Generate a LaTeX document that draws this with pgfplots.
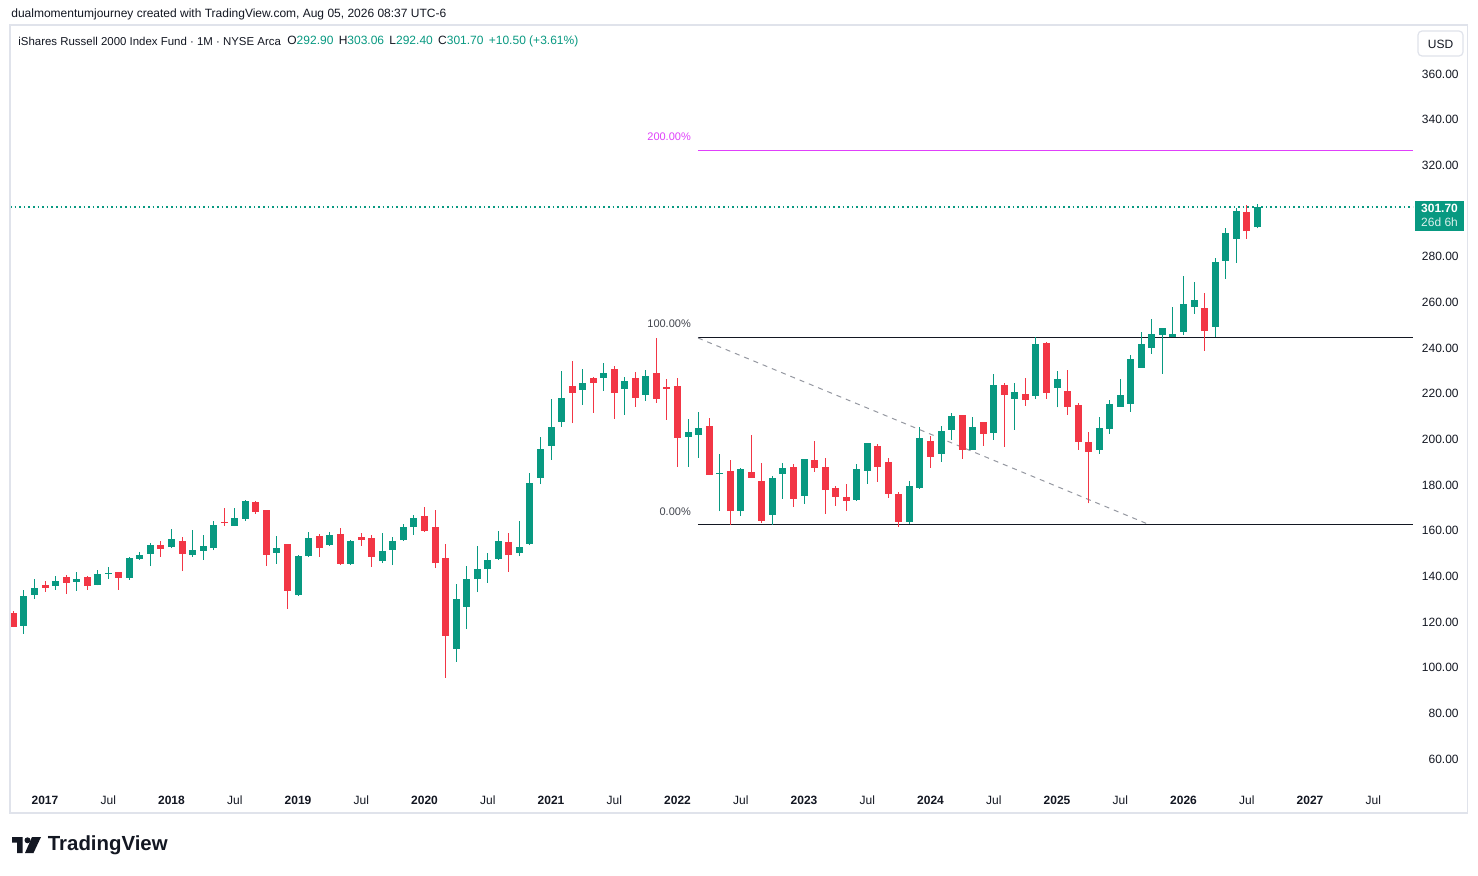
\documentclass[border=0pt]{standalone}
\usepackage{pgfplots}
\pgfplotsset{compat=1.18}
\usepackage{pgfplotstable}
\usepackage{fontspec}
\setmainfont{Liberation Sans}
\definecolor{tvgreen}{HTML}{089981}
\definecolor{tvred}{HTML}{F23645}
\definecolor{fibmag}{HTML}{E040FB}
\definecolor{tvtext}{HTML}{131722}
\definecolor{tvborder}{HTML}{E0E3EB}
\definecolor{tvdash}{HTML}{9598A1}
\newcommand\tvf{\fontsize{6}{7.2}\selectfont}

\pgfplotstableread{
x o h l c
-2 118.4 134.0 114.9 131.4
-1 132.0 138.8 130.2 134.9
1 135.9 140.1 134.1 137.9
3 137.7 141.9 133.7 138.8
5 136.4 142.8 136.0 141.0
6 141.2 144.1 139.0 141.5
8 139.4 148.5 138.5 148.0
9 147.6 150.6 147.2 149.3
10 149.8 154.6 144.5 153.7
12 152.8 160.7 152.4 156.3
14 149.3 160.3 148.5 151.5
15 151.1 158.1 147.2 153.3
16 152.4 164.2 151.5 162.5
18 162.2 169.9 162.0 165.5
19 165.3 173.4 164.4 173.0
22 150.3 157.7 145.5 152.4
24 131.8 149.3 131.4 148.9
25 148.9 159.4 148.5 156.8
27 153.7 159.4 153.3 158.1
29 145.4 155.9 145.0 155.5
32 146.7 158.9 145.8 151.1
33 151.5 157.2 144.9 155.5
34 155.9 162.9 155.5 161.6
35 161.6 166.9 158.1 165.5
39 108.3 136.7 102.5 130.1
40 126.6 144.5 116.9 138.8
41 138.8 153.3 133.1 143.2
42 143.2 150.2 137.1 147.2
43 147.6 159.9 147.2 155.5
45 150.2 164.2 148.9 152.8
46 154.2 185.3 153.7 180.9
47 183.1 201.0 180.4 195.8
48 197.1 217.7 191.0 205.4
49 207.6 230.0 205.4 218.1
51 221.7 230.8 215.2 224.7
53 227.0 233.4 221.3 229.0
55 222.2 227.3 210.8 225.5
57 219.5 230.4 216.9 227.7
61 201.1 208.9 188.0 203.0
62 202.0 211.9 192.0 204.8
64 184.9 193.6 168.6 185.3
66 168.8 187.4 166.4 187.0
69 167.0 183.9 162.5 183.1
70 184.9 189.6 174.0 187.4
72 175.3 191.4 171.8 191.4
77 173.6 189.2 173.1 187.0
78 186.3 198.4 180.6 198.4
82 164.0 181.8 163.1 179.6
83 178.8 205.4 178.4 200.6
85 193.7 205.8 190.2 203.6
86 204.2 211.5 199.7 210.2
88 195.5 209.8 195.5 205.4
90 202.9 228.6 199.8 223.8
92 217.8 224.7 204.2 220.7
94 219.1 245.0 217.8 241.8
96 222.6 230.0 214.0 226.4
100 195.5 209.8 193.7 205.0
101 204.7 217.2 202.5 215.5
102 214.3 226.4 214.3 219.4
103 215.6 236.9 212.1 235.2
104 231.4 247.0 231.4 241.8
105 240.1 252.7 237.5 246.1
106 245.7 248.8 228.7 248.8
107 244.8 258.0 244.8 246.1
108 247.1 271.5 245.8 259.3
109 258.1 268.9 255.0 261.0
111 249.3 279.4 244.9 277.7
112 278.2 292.6 270.3 290.4
113 287.9 301.3 277.4 300.0
115 292.9 303.06 292.4 301.7
}\up

\pgfplotstableread{
x o h l c
-3 124.1 124.8 117.8 118.0
0 136.2 137.9 133.3 135.0
2 139.7 140.6 132.4 137.2
4 139.7 140.1 134.1 135.9
7 141.9 141.9 134.1 139.4
11 153.7 155.5 148.5 152.0
13 155.5 157.2 142.3 149.8
17 163.9 169.9 162.0 163.5
20 172.6 173.0 167.4 168.3
21 169.0 169.0 144.6 149.5
23 154.2 154.2 125.8 133.7
26 157.7 158.5 148.5 152.4
28 158.5 161.2 145.0 145.4
30 157.2 158.9 153.3 155.9
31 156.8 158.1 144.1 148.5
36 166.4 170.4 159.5 159.9
37 161.6 169.0 143.6 145.8
38 148.0 154.2 95.5 113.9
44 155.0 158.9 141.9 149.3
50 223.4 234.3 207.1 220.3
52 226.9 227.3 211.7 224.8
54 230.8 232.1 209.0 220.5
56 226.9 229.5 214.3 218.2
58 229.0 244.4 216.0 217.8
59 222.8 226.4 208.6 222.2
60 223.4 226.9 188.0 200.7
63 205.7 209.4 184.5 184.5
65 186.0 191.0 162.5 168.6
67 185.7 201.9 183.2 183.2
68 181.8 189.6 163.5 164.4
71 187.9 189.2 170.5 174.0
73 191.0 199.3 185.8 187.6
74 187.9 191.8 167.4 177.9
75 178.7 179.6 170.9 174.9
76 174.7 180.4 168.8 173.1
79 197.1 198.0 181.4 188.0
80 190.1 191.8 174.5 176.2
81 176.1 177.0 161.8 164.0
84 199.3 201.5 187.6 192.4
87 210.7 210.7 191.5 195.5
89 207.6 207.6 197.2 202.5
91 223.8 224.7 196.8 219.5
93 219.9 226.9 214.7 217.4
95 242.2 242.6 217.8 220.5
97 221.2 230.4 210.8 214.3
98 215.0 215.9 195.5 199.0
99 198.8 203.2 172.0 194.6
110 257.5 264.1 238.8 247.4
114 299.6 302.6 287.9 291.2
}\down

\begin{document}
\begin{tikzpicture}
\useasboundingbox (0,0) rectangle (739pt,437.5pt);
\fill[white] (0,0) rectangle (739pt,437.5pt);

\begin{axis}[
  at={(5pt,44pt)}, anchor=south west,
  scale only axis, width=701.5pt, height=380pt,
  xmin=-3.32, xmax=129.77, ymin=47.73, ymax=380.58,
  axis line style={draw=none}, major tick length=0pt,
  xtick={0,6,...,126},
  xticklabels={\textbf{2017},Jul,\textbf{2018},Jul,\textbf{2019},Jul,\textbf{2020},Jul,\textbf{2021},Jul,\textbf{2022},Jul,\textbf{2023},Jul,\textbf{2024},Jul,\textbf{2025},Jul,\textbf{2026},Jul,\textbf{2027},Jul},
  xticklabel style={font=\tvf, text=tvtext, anchor=center, yshift=-6.5pt, inner sep=0pt},
  ytick={60,80,...,360},
  yticklabel pos=right,
  yticklabel style={font=\tvf, text=tvtext, anchor=east, xshift=23pt, inner sep=0pt},
  /pgf/number format/fixed, /pgf/number format/fixed zerofill,
  /pgf/number format/precision=2, /pgf/number format/assume math mode=true,
  /pgf/number format/1000 sep={},
  candle/.style={draw=none, mark=none, forget plot, error bars/.cd, y dir=plus, y explicit, error mark=none},
]
% dotted last price line
\addplot[tvgreen, line width=0.75pt, dash pattern=on 0.75pt off 1.55pt] coordinates {(-3.32,301.7) (129.77,301.7)};
% fib levels
\addplot[tvtext, line width=0.5pt] coordinates {(61.94,244.4) (129.77,244.4)};
\addplot[tvtext, line width=0.5pt] coordinates {(61.94,162.5) (129.77,162.5)};
\addplot[fibmag, line width=0.5pt] coordinates {(61.94,326.3) (129.77,326.3)};
\addplot[tvdash, line width=0.5pt, dash pattern=on 2.5pt off 2.5pt] coordinates {(61.94,244.4) (104.82,162.5)};
% wicks
\addplot[candle, error bar style={line width=0.5pt, draw=tvgreen}]
  table[x=x, y=l, y error plus expr=\thisrow{h}-\thisrow{l}] {\up};
\addplot[candle, error bar style={line width=0.5pt, draw=tvred}]
  table[x=x, y=l, y error plus expr=\thisrow{h}-\thisrow{l}] {\down};
% bodies
\addplot[candle, error bar style={line width=3.5pt, draw=tvgreen}]
  table[x=x, y=o, y error plus expr={max(\thisrow{c}-\thisrow{o},0.45)}] {\up};
\addplot[candle, error bar style={line width=3.5pt, draw=tvred}]
  table[x=x, y=c, y error plus expr={max(\thisrow{o}-\thisrow{c},0.45)}] {\down};
% fib labels
\node[anchor=east, inner sep=0pt, font=\fontsize{5.5}{6.6}\selectfont, text=fibmag] at (axis cs:61.3,332.4) {200.00\%};
\node[anchor=east, inner sep=0pt, font=\fontsize{5.5}{6.6}\selectfont, text=tvtext!80] at (axis cs:61.3,250.5) {100.00\%};
\node[anchor=east, inner sep=0pt, font=\fontsize{5.5}{6.6}\selectfont, text=tvtext!80] at (axis cs:61.3,168.2) {0.00\%};
\end{axis}

\begin{scope}[x=0.5pt,y=-0.5pt,yshift=437.5pt]
  % frame
  \draw[tvborder, line width=0.6pt] (10,25) rectangle (1467.5,813);
  % header
  \node[anchor=west, inner sep=0pt, font=\tvf, text=tvtext] at (11,14) {dualmomentumjourney created with TradingView.com, Aug 05, 2026 08:37 UTC-6};
  \node[anchor=west, inner sep=0pt, font=\fontsize{5.72}{7}\selectfont, text=tvtext] at (18,41) {iShares Russell 2000 Index Fund · 1M · NYSE Arca};
  \node[anchor=west, inner sep=0pt, font=\tvf, text=tvtext] at (287,41) {O\textcolor{tvgreen}{292.90}\, H\textcolor{tvgreen}{303.06}\, L\textcolor{tvgreen}{292.40}\, C\textcolor{tvgreen}{301.70}\, \textcolor{tvgreen}{+10.50 (+3.61\%)}};
  % USD box
  \draw[tvborder, line width=0.6pt, rounded corners=2pt, fill=white] (1418,31) rectangle (1463,56);
  \node[inner sep=0pt, font=\tvf, text=tvtext] at (1440.5,44) {USD};
  % price label
  \fill[tvgreen] (1415,201) rectangle (1464,231);
  \node[inner sep=0pt, font=\tvf\bfseries, text=white] at (1439.5,208.5) {301.70};
  \node[inner sep=0pt, font=\tvf, text=white!85!tvgreen] at (1439.5,222.5) {26d 6h};
  % TradingView logo
  \fill[tvtext] (12,837) -- (22.5,837) -- (22.5,853) -- (17,853) -- (17,842.5) -- (12,842.5) -- cycle;
  \fill[tvtext] (27.5,840.3) circle (3);
  \fill[tvtext] (32,837) -- (41,837) -- (33.5,853) -- (25,853) -- cycle;
  \node[anchor=west, inner sep=0pt, font=\fontsize{10.2}{12}\selectfont\bfseries, text=tvtext] at (47.5,845.5) {TradingView};
\end{scope}
\end{tikzpicture}
\end{document}
